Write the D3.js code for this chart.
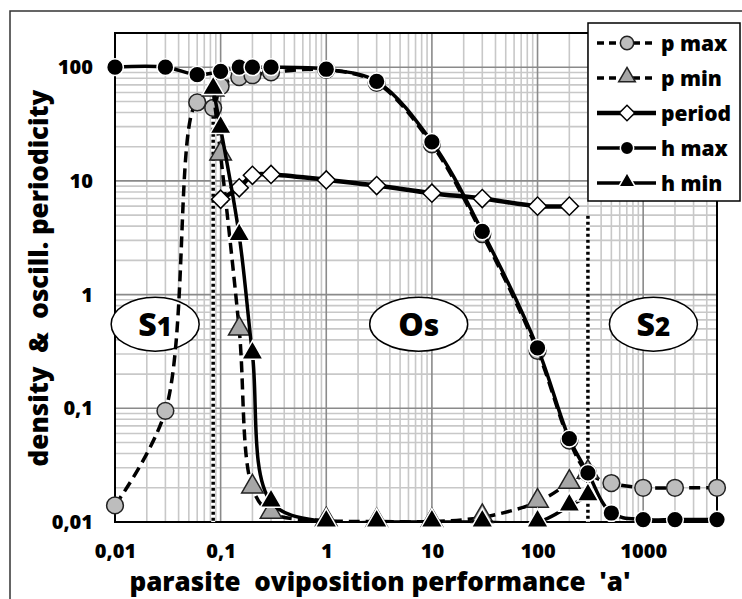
<!DOCTYPE html>
<html>
<head>
<meta charset="utf-8">
<script src="https://cdn.jsdelivr.net/npm/d3@7"></script>
<style>
  body { margin: 0; background: #fff; }
  svg { font-family: "Open Sans", sans-serif; font-weight: 800; }
</style>
</head>
<body>
<div class="chart"></div>
<script>
// values
const pMaxA = [0.01, 0.03, 0.06, 0.085, 0.1, 0.15, 0.2, 0.3, 1, 3, 10, 30, 100, 200, 300, 500, 1000, 2000, 5000];
const pMaxV = [0.014, 0.095, 49, 44, 68, 82, 85, 90, 95, 73, 21, 3.4, 0.32, 0.052, 0.027, 0.022, 0.020, 0.020, 0.020];

const pMinA = [0.085, 0.1, 0.15, 0.2, 0.3, 1, 3, 10, 30, 100, 200, 300];
const pMinV = [62, 17, 0.49, 0.020, 0.012, 0.0103, 0.0101, 0.0101, 0.011, 0.015, 0.022, 0.027];

const periodA = [0.1, 0.15, 0.2, 0.3, 1, 3, 10, 30, 100, 200];
const periodV = [6.9, 8.7, 11.2, 11.4, 10.2, 9.1, 7.8, 7.0, 6.0, 6.0];

const hMaxA = [0.01, 0.03, 0.06, 0.1, 0.15, 0.2, 0.3, 1, 3, 10, 30, 100, 200, 300, 500, 1000, 2000, 5000];
const hMaxV = [100, 100, 86, 92, 100, 100, 100, 96, 75, 22, 3.6, 0.34, 0.054, 0.027, 0.012, 0.0105, 0.0105, 0.0105];

const hMinA = [0.085, 0.1, 0.15, 0.2, 0.3, 1, 3, 10, 30, 100, 200, 300];
const hMinV = [64, 29, 3.3, 0.30, 0.015, 0.01, 0.01, 0.01, 0.01, 0.01, 0.0138, 0.017];

const xTicks = [0.01, 0.1, 1, 10, 100, 1000];
const yTicks = [0.01, 0.1, 1, 10, 100];
const boundaries = [0.085, 300];
const regions = [
  {a: 0.024, v: 0.55, main: "S", sub: "1"},
  {a: 7.5, v: 0.55, main: "O", sub: "s"},
  {a: 1250, v: 0.55, main: "S", sub: "2"}
];

const width = 742, height = 599;

const x = d3.scaleLog().domain([0.01, 5000]).range([115, 717]);
const y = d3.scaleLog().domain([0.01, 200]).range([522, 33]);

const svg = d3.select(".chart").append("svg")
    .attr("width", width)
    .attr("height", height);

// outer frame
svg.append("rect")
    .attr("x", 10).attr("y", 11)
    .attr("width", 740).attr("height", 600)
    .attr("fill", "none").attr("stroke", "#333").attr("stroke-width", 1.5);

svg.append("clipPath").attr("id", "plot-clip")
  .append("rect")
    .attr("x", x.range()[0]).attr("y", y.range()[1])
    .attr("width", x.range()[1] - x.range()[0])
    .attr("height", y.range()[0] - y.range()[1]);

const isMajor = d => Math.abs(Math.log10(d) - Math.round(Math.log10(d))) < 1e-9;

// gridlines (minor first, major on top)
const grid = svg.append("g").attr("class", "grid");
const xg = x.ticks().filter(d => d > 0.01 && d < 5000);
const yg = y.ticks().filter(d => d > 0.01 && d < 200);

grid.selectAll(".xminor").data(xg.filter(d => !isMajor(d))).enter().append("line")
    .attr("x1", d => x(d)).attr("x2", d => x(d))
    .attr("y1", y.range()[0]).attr("y2", y.range()[1])
    .attr("stroke", "#c8c8c8").attr("stroke-width", 1.6);
grid.selectAll(".yminor").data(yg.filter(d => !isMajor(d))).enter().append("line")
    .attr("y1", d => y(d)).attr("y2", d => y(d))
    .attr("x1", x.range()[0]).attr("x2", x.range()[1])
    .attr("stroke", "#c8c8c8").attr("stroke-width", 1.6);
grid.selectAll(".xmajor").data(xg.filter(isMajor)).enter().append("line")
    .attr("x1", d => x(d)).attr("x2", d => x(d))
    .attr("y1", y.range()[0]).attr("y2", y.range()[1])
    .attr("stroke", "#8a8a8a").attr("stroke-width", 1.6);
grid.selectAll(".ymajor").data(yg.filter(isMajor)).enter().append("line")
    .attr("y1", d => y(d)).attr("y2", d => y(d))
    .attr("x1", x.range()[0]).attr("x2", x.range()[1])
    .attr("stroke", "#8a8a8a").attr("stroke-width", 1.6);

// plot border
svg.append("rect")
    .attr("x", x.range()[0]).attr("y", y.range()[1])
    .attr("width", x.range()[1] - x.range()[0])
    .attr("height", y.range()[0] - y.range()[1])
    .attr("fill", "none").attr("stroke", "#000").attr("stroke-width", 2);

// region boundaries (dotted)
const bnd = svg.append("g");
const bndTop = [44, 5.8];
boundaries.forEach((b, i) => {
  bnd.append("line")
      .attr("x1", x(b)).attr("x2", x(b))
      .attr("y1", y(bndTop[i]) + 8).attr("y2", y.range()[0])
      .attr("stroke", "#fff").attr("stroke-width", 4);
  bnd.append("line")
      .attr("x1", x(b)).attr("x2", x(b))
      .attr("y1", y(bndTop[i]) + 8).attr("y2", y.range()[0])
      .attr("stroke", "#000").attr("stroke-width", 3.5)
      .attr("stroke-dasharray", "3,3");
});

// region labels
const reg = svg.append("g").selectAll("g").data(regions).enter().append("g")
    .attr("transform", d => "translate(" + x(d.a) + "," + y(d.v) + ")");
reg.append("ellipse")
    .attr("rx", d => d.main == "O" ? 49 : 44).attr("ry", 27)
    .attr("fill", "#fff").attr("stroke", "#000").attr("stroke-width", 1.5);
const regText = reg.append("text")
    .attr("text-anchor", "middle").attr("y", 12)
    .style("font-size", "32px");
regText.append("tspan").text(d => d.main);
regText.append("tspan").style("font-size", d => d.sub == "s" ? "30px" : "26px").text(d => d.sub);

// axes
const comma = d => String(d).replace(".", ",");
const xAxis = svg.append("g")
    .attr("transform", "translate(0," + y.range()[0] + ")")
    .call(d3.axisBottom(x).tickValues(xTicks).tickFormat(comma).tickSize(0).tickPadding(22));
const yAxis = svg.append("g")
    .attr("transform", "translate(" + x.range()[0] + ",0)")
    .call(d3.axisLeft(y).tickValues(yTicks).tickFormat(comma).tickSize(0).tickPadding(22));
[xAxis, yAxis].forEach(a => {
  a.select(".domain").remove();
  a.selectAll("text").style("font-size", "20px").style("font-family", "'Open Sans', sans-serif")
    .attr("font-weight", "800").attr("fill", "#000");
});

svg.append("text")
    .attr("x", 380).attr("y", 591)
    .attr("text-anchor", "middle")
    .style("font-size", "26px").style("white-space", "pre")
    .text("parasite  oviposition performance  'a'");

svg.append("text")
    .attr("transform", "translate(48,278) rotate(-90)")
    .attr("text-anchor", "middle")
    .style("font-size", "26px").style("white-space", "pre")
    .text("density  &  oscill. periodicity");

// series
const series = [
  {name: "p max", a: pMaxA, v: pMaxV, dash: "11,6", w: 3.5, shape: "circle", fill: "#bdbdbd", stroke: "#222"},
  {name: "p min", a: pMinA, v: pMinV, dash: "11,6", w: 3.5, shape: "triangle", fill: "#a6a6a6", stroke: "#222"},
  {name: "period", a: periodA, v: periodV, dash: null, w: 4.5, shape: "diamond", fill: "#fff", stroke: "#000"},
  {name: "h max", a: hMaxA, v: hMaxV, dash: null, w: 3.5, shape: "circle", fill: "#000", stroke: "#fff"},
  {name: "h min", a: hMinA, v: hMinV, dash: null, w: 3.5, shape: "triangle", fill: "#000", stroke: "#fff"}
];

const symbolFor = {
  circle: d3.symbol().type(d3.symbolCircle).size(220),
  triangle: d3.symbol().type(d3.symbolTriangle).size(200),
  diamond: d3.symbol().type(d3.symbolSquare).size(165)
};
const shapeTransform = s => s == "diamond" ? " rotate(45)" : (s == "triangle" ? " translate(0,-1)" : "");

const line = d3.line()
    .x(d => x(d[0]))
    .y(d => y(d[1]))
    .curve(d3.curveCatmullRom.alpha(0.5));

const plot = svg.append("g");
series.forEach(s => {
  const pts = s.a.map((a, i) => [a, s.v[i]]);
  plot.append("path")
      .attr("clip-path", "url(#plot-clip)")
      .attr("d", line(pts))
      .attr("fill", "none").attr("stroke", "#000")
      .attr("stroke-width", s.w)
      .attr("stroke-dasharray", s.dash);
  plot.append("g").selectAll("path").data(pts).enter().append("path")
      .attr("d", symbolFor[s.shape])
      .attr("transform", d => "translate(" + x(d[0]) + "," + y(d[1]) + ")" + shapeTransform(s.shape))
      .attr("fill", s.fill).attr("stroke", s.stroke).attr("stroke-width", 1.5);
});

// legend
const legend = svg.append("g");
legend.append("rect")
    .attr("x", 588).attr("y", 23).attr("width", 152).attr("height", 178)
    .attr("fill", "#fff").attr("stroke", "#000").attr("stroke-width", 1.5);
const li = legend.selectAll(".item").data(series).enter().append("g")
    .attr("transform", (d, i) => "translate(0," + (43 + i * 35) + ")");
li.append("line")
    .attr("x1", 597).attr("x2", 656)
    .attr("stroke", "#000").attr("stroke-width", d => d.w)
    .attr("stroke-dasharray", d => d.dash ? "7,5" : null);
li.append("path")
    .attr("d", d => symbolFor[d.shape].size(d.shape == "circle" ? 140 : 120)())
    .attr("transform", d => "translate(627,0)" + shapeTransform(d.shape))
    .attr("fill", d => d.fill).attr("stroke", d => d.stroke).attr("stroke-width", 1.5);
li.append("text")
    .attr("x", 661).attr("y", 8)
    .style("font-size", "21px")
    .text(d => d.name);
</script>
</body>
</html>
